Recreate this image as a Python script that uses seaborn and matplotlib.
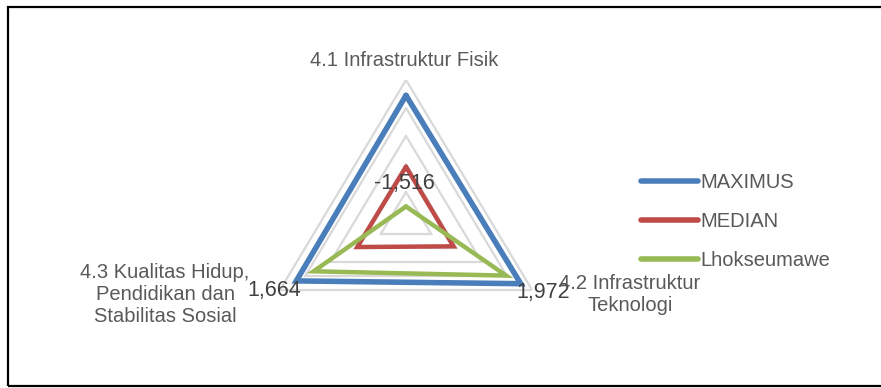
import numpy as np
import pandas as pd
import matplotlib
matplotlib.use("Agg")
import matplotlib.pyplot as plt
import seaborn as sns
from matplotlib.patches import Rectangle

categories = ["4.1 Infrastruktur Fisik", "4.2 Infrastruktur\nTeknologi",
              "4.3 Kualitas Hidup,\nPendidikan dan\nStabilitas Sosial"]
series_names = ["MAXIMUS", "MEDIAN", "Lhokseumawe"]
maximus = [2.45, 2.55, 2.35]
median = [-0.10, -0.12, -0.07]
lhokseumawe = [-1.516, 1.972, 1.664]
data_labels = ["-1,516", "1,972", "1,664"]
ring_levels = [-2, -1, 0, 1, 2, 3]

colors = {"MAXIMUS": "#4A7EBB", "MEDIAN": "#BE4B48", "Lhokseumawe": "#98B954"}
widths = {"MAXIMUS": 4.0, "MEDIAN": 3.2, "Lhokseumawe": 3.2}

sns.set_theme(style="white")
plt.rcParams["font.family"] = ["Liberation Sans", "DejaVu Sans"]

n = len(categories)
angles = np.arange(n) * 2 * np.pi / n
ang_closed = np.append(angles, angles[0] + 2 * np.pi)

rows = []
for name, vals in zip(series_names, [maximus, median, lhokseumawe]):
    closed = list(vals) + [vals[0]]
    for i, (a, v) in enumerate(zip(ang_closed, closed)):
        rows.append({"series": name, "angle": a, "value": v, "order": i})
df = pd.DataFrame(rows)

W, H = 881, 388
fig = plt.figure(figsize=(W / 100, H / 100), dpi=100)
cx, cy, R, sx = 406, 220, 140, 1.04
ax = fig.add_axes([(cx - R * sx) / W, (H - cy - R) / H, 2 * R * sx / W, 2 * R / H], projection="polar")
ax.set_aspect("auto")
ax.set_theta_offset(np.pi / 2)
ax.set_theta_direction(-1)
ax.set_rlim(ring_levels[0], ring_levels[-1])
ax.grid(False)
ax.spines["polar"].set_visible(False)
ax.set_xticks([])
ax.set_yticks([])
ax.patch.set_alpha(0)

for lv in ring_levels[1:]:
    ax.plot(ang_closed, [lv] * len(ang_closed), color="#D9D9D9", lw=1.6, zorder=1)

for name in series_names:
    sub = df[df.series == name]
    sns.lineplot(data=sub, x="angle", y="value", sort=False, ax=ax, color=colors[name],
                 lw=widths[name], zorder=3, legend=False, estimator=None)
for l in ax.lines:
    l.set_solid_joinstyle("miter")

ax.set_xlabel("")
ax.set_ylabel("")
ax.set_rlim(ring_levels[0], ring_levels[-1])

offsets = [(-1.5, 16.5), (27, -12), (-28, -14)]
for a, v, lab, off in zip(angles, lhokseumawe, data_labels, offsets):
    ax.annotate(lab, (a, v), xytext=off, textcoords="offset points", ha="center", va="center",
                fontsize=15.5, color="#404040", annotation_clip=False, zorder=5)

txt_color = "#595959"
fs = 14.5
fig.text(404 / W, 1 - 60 / H, categories[0], ha="center", va="center", fontsize=fs, color=txt_color)
fig.text(630 / W, 1 - 294.5 / H, categories[1], ha="center", va="center", fontsize=fs,
         color=txt_color, multialignment="center", linespacing=1.15)
fig.text(165 / W, 1 - 294 / H, categories[2], ha="center", va="center", fontsize=fs,
         color=txt_color, multialignment="center", linespacing=1.2)

handles = [plt.Line2D([], [], color=colors[s], lw=4, solid_capstyle="round") for s in series_names]
leg = fig.legend(handles, series_names, loc="upper left", bbox_to_anchor=(641 / W, 1 - 173 / H),
                 frameon=False, fontsize=fs, handlelength=2.85, handletextpad=0.1,
                 labelspacing=1.0, borderpad=0, borderaxespad=0)
for t in leg.get_texts():
    t.set_color(txt_color)

fig.add_artist(Rectangle((8 / W, 2 / H), 1.0, 1 - 9 / H, transform=fig.transFigure,
                         fill=False, edgecolor="black", lw=1.6))

fig.savefig("out.png", dpi=100)
